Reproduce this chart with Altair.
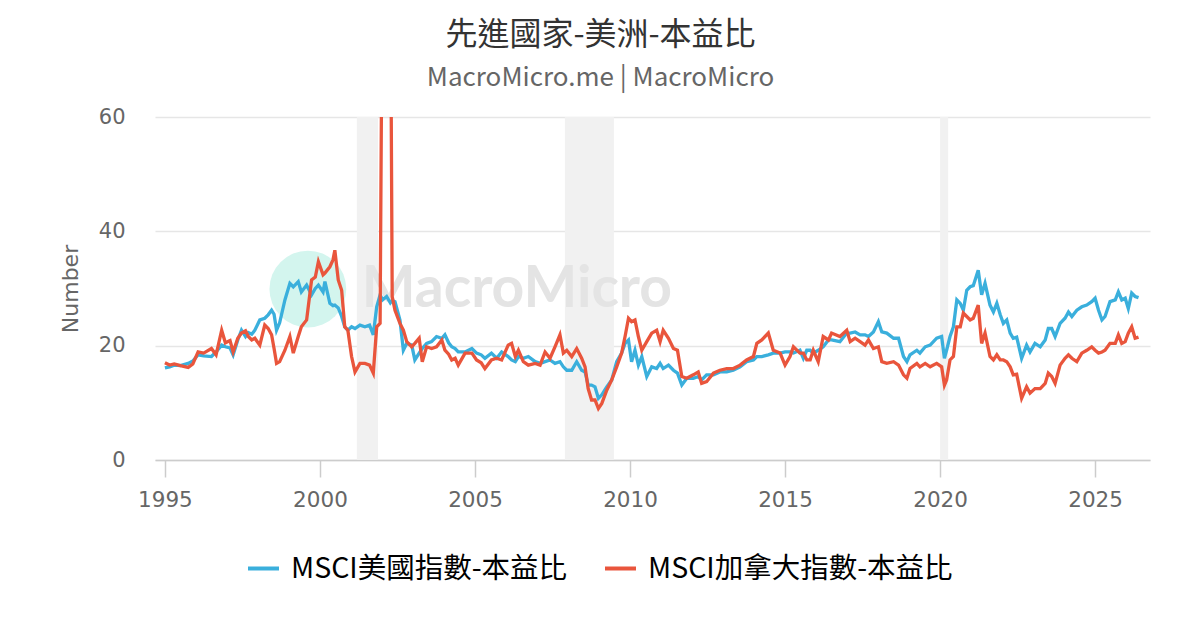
import altair as alt
import pandas as pd

# ---- data ----
t = [1995.00, 1995.15, 1995.30, 1995.50, 1995.75, 1995.90, 1996.07, 1996.25, 1996.50, 1996.65,
     1996.83, 1996.95, 1997.10, 1997.20, 1997.35, 1997.47, 1997.60, 1997.69, 1997.80, 1997.90,
     1998.06, 1998.22, 1998.33, 1998.44, 1998.52, 1998.60, 1998.70, 1998.87, 1999.03, 1999.14,
     1999.30, 1999.40, 1999.57, 1999.73, 1999.85, 1999.95, 2000.10, 2000.16, 2000.32, 2000.42,
     2000.48, 2000.59, 2000.70, 2000.80, 2000.90, 2001.02, 2001.13, 2001.29, 2001.45, 2001.60,
     2001.72, 2001.83, 2001.94, 2002.02, 2002.15, 2002.27, 2002.33, 2002.42, 2002.58, 2002.69,
     2002.80, 2002.96, 2003.06, 2003.20, 2003.30, 2003.44, 2003.60, 2003.76, 2003.93, 2004.03,
     2004.15, 2004.25, 2004.36, 2004.46, 2004.68, 2004.90, 2005.05, 2005.20, 2005.32, 2005.53,
     2005.70, 2005.86, 2006.07, 2006.18, 2006.30, 2006.40, 2006.56, 2006.72, 2006.94, 2007.10,
     2007.26, 2007.42, 2007.58, 2007.74, 2007.85, 2007.96, 2008.12, 2008.28, 2008.44, 2008.55,
     2008.65, 2008.76, 2008.87, 2008.98, 2009.09, 2009.25, 2009.41, 2009.57, 2009.73, 2009.84,
     2009.95, 2010.05, 2010.16, 2010.27, 2010.38, 2010.54, 2010.70, 2010.86, 2010.97, 2011.07,
     2011.24, 2011.40, 2011.53, 2011.67, 2011.83, 2012.04, 2012.20, 2012.31, 2012.47, 2012.69,
     2012.90, 2013.12, 2013.33, 2013.55, 2013.76, 2013.98, 2014.09, 2014.25, 2014.46, 2014.62,
     2014.84, 2015.00, 2015.16, 2015.27, 2015.48, 2015.59, 2015.70, 2015.81, 2015.91, 2016.07,
     2016.23, 2016.40, 2016.50, 2016.77, 2016.99, 2017.10, 2017.26, 2017.42, 2017.58, 2017.69,
     2017.85, 2018.01, 2018.12, 2018.28, 2018.50, 2018.66, 2018.82, 2018.93, 2019.03, 2019.25,
     2019.35, 2019.52, 2019.68, 2019.89, 2020.05, 2020.14, 2020.21, 2020.32, 2020.43, 2020.54,
     2020.65, 2020.75, 2020.86, 2020.97, 2021.07, 2021.23, 2021.34, 2021.45, 2021.61, 2021.72,
     2021.83, 2021.94, 2022.04, 2022.15, 2022.26, 2022.36, 2022.47, 2022.63, 2022.79, 2022.90,
     2023.06, 2023.23, 2023.39, 2023.49, 2023.60, 2023.71, 2023.87, 2024.03, 2024.14, 2024.25,
     2024.41, 2024.57, 2024.73, 2024.89, 2025.00, 2025.11, 2025.22, 2025.32, 2025.48, 2025.65,
     2025.75, 2025.86, 2025.97, 2026.07, 2026.18, 2026.29, 2026.40]

us_pe = [16.1, 16.3, 16.6, 16.5, 16.9, 17.3, 18.4, 18.2, 18.1, 18.9,
         20.1, 19.8, 19.6, 18.4, 21.0, 22.7, 21.6, 22.3, 22.0, 22.7,
         24.5, 24.8, 25.4, 26.2, 25.5, 22.7, 24.0, 28.0, 30.9, 30.3,
         31.2, 29.4, 30.6, 28.9, 30.0, 30.6, 29.4, 31.2, 27.4, 27.0,
         27.1, 26.6, 25.1, 23.3, 22.7, 23.3, 23.0, 23.6, 23.3, 23.6,
         21.9, 26.8, 28.9, 28.0, 28.6, 27.5, 27.9, 27.7, 24.5, 19.2,
         20.4, 20.1, 17.5, 18.7, 19.5, 20.4, 20.7, 21.6, 21.3, 21.9,
         20.5, 19.8, 19.5, 18.9, 18.9, 19.5, 18.7, 18.4, 17.8, 18.7,
         17.8, 18.9, 18.1, 17.5, 17.2, 18.1, 17.8, 18.1, 17.2, 16.9,
         17.2, 17.5, 16.9, 17.2, 16.3, 15.7, 15.7, 17.2, 15.7, 15.4,
         13.1, 13.1, 12.8, 10.8, 11.4, 12.8, 14.0, 17.2, 18.7, 20.4,
         21.0, 17.2, 19.2, 16.6, 18.1, 14.6, 16.3, 16.0, 16.9, 16.0,
         16.6, 15.7, 15.2, 13.1, 14.3, 14.3, 14.6, 14.0, 14.9, 14.9,
         15.4, 15.4, 15.7, 16.3, 17.2, 17.5, 18.1, 18.1, 18.4, 18.7,
         18.7, 18.9, 18.9, 18.7, 19.2, 17.8, 19.2, 19.2, 18.7, 19.2,
         19.8, 21.0, 21.0, 20.7, 22.2, 22.2, 22.4, 21.9, 21.9, 21.6,
         22.4, 24.2, 22.4, 22.2, 21.3, 21.3, 18.1, 17.2, 18.4, 19.2,
         18.7, 19.8, 20.1, 21.3, 21.6, 17.8, 19.2, 21.6, 23.3, 28.0,
         27.4, 26.2, 29.7, 30.3, 30.5, 33.2, 28.9, 30.9, 27.1, 25.9,
         27.4, 25.4, 23.9, 24.5, 22.2, 21.3, 21.5, 17.8, 20.1, 18.9,
         20.4, 19.8, 21.0, 23.0, 23.0, 21.6, 23.9, 24.8, 25.9, 25.1,
         26.2, 26.8, 27.1, 27.7, 28.3, 26.2, 24.5, 25.1, 27.7, 28.0,
         29.4, 28.0, 28.3, 26.5, 29.2, 28.6, 28.4]

ca_pe = [17.0, 16.6, 16.8, 16.5, 16.2, 16.8, 18.9, 18.7, 19.5, 18.4,
         22.7, 20.5, 20.9, 18.9, 21.3, 22.2, 22.6, 21.6, 21.0, 21.3,
         20.1, 23.6, 23.0, 21.9, 19.5, 16.9, 17.2, 19.2, 21.6, 18.7,
         21.6, 23.3, 24.5, 31.5, 32.0, 34.7, 32.4, 32.7, 33.8, 35.0,
         36.7, 31.5, 29.7, 23.3, 22.7, 18.1, 15.4, 16.9, 16.9, 16.6,
         15.2, 23.3, 23.9, 95.0, 130.0, 90.0, 28.6, 26.2, 23.9, 22.7,
         20.7, 19.8, 20.4, 21.3, 17.2, 19.8, 19.5, 19.8, 21.0, 19.2,
         18.5, 17.5, 17.8, 16.6, 18.7, 18.7, 17.5, 17.0, 16.0, 17.5,
         17.8, 17.5, 20.1, 20.4, 18.1, 19.2, 17.2, 16.6, 16.9, 16.6,
         18.9, 17.8, 19.8, 21.9, 18.7, 19.2, 18.1, 19.5, 17.8, 16.3,
         12.5, 10.5, 10.5, 9.0, 9.9, 12.2, 14.0, 16.3, 18.7, 21.6,
         24.8, 24.2, 24.5, 21.6, 19.2, 20.7, 22.2, 22.7, 20.7, 22.7,
         21.3, 19.5, 19.2, 14.6, 14.3, 14.9, 15.4, 13.4, 13.7, 15.2,
         15.7, 16.0, 16.0, 16.6, 17.5, 18.1, 20.4, 21.0, 22.2, 19.2,
         18.7, 16.6, 18.1, 19.8, 18.7, 18.7, 17.5, 17.5, 19.2, 17.2,
         21.6, 21.0, 22.2, 21.6, 22.7, 20.7, 21.3, 20.7, 20.1, 21.0,
         19.5, 19.8, 17.2, 16.9, 17.2, 16.6, 14.9, 14.3, 16.0, 16.9,
         16.3, 16.9, 16.3, 16.9, 16.3, 13.1, 14.0, 17.5, 18.1, 23.3,
         23.3, 25.7, 25.1, 24.5, 24.8, 27.1, 20.4, 22.2, 18.1, 17.5,
         18.4, 17.5, 17.5, 17.2, 16.3, 14.9, 15.0, 10.8, 12.8, 11.7,
         12.5, 12.5, 13.4, 15.2, 14.6, 13.4, 16.6, 17.8, 18.4, 17.8,
         17.2, 18.7, 19.2, 19.8, 19.2, 18.7, 18.9, 19.2, 20.4, 20.4,
         21.9, 20.4, 20.7, 22.2, 23.3, 21.3, 21.5]

series_names = ["MSCI美國指數-本益比", "MSCI加拿大指數-本益比"]
series_colors = ["#3aafdc", "#e9553c"]

rec_start = [2001.19, 2007.90, 2020.00]
rec_end = [2001.87, 2009.48, 2020.26]

year_ticks = [1995, 2000, 2005, 2010, 2015, 2020, 2025]
y_ticks = [0, 20, 40, 60]

wm_x = [2006.35]
wm_y = [29.8]
logo_x = [1999.61]
logo_y = [29.9]

# ---- frames ----
df = pd.concat([
    pd.DataFrame({"t": t, "v": us_pe, "s": series_names[0]}),
    pd.DataFrame({"t": t, "v": ca_pe, "s": series_names[1]}),
], ignore_index=True)
rec = pd.DataFrame({"a": rec_start, "b": rec_end})
wm = pd.DataFrame({"x": wm_x, "y": wm_y, "txt": ["MacroMicro"]})
logo = pd.DataFrame({"x": logo_x, "y": logo_y})

W, H = 995, 343
xscale = alt.Scale(domain=[1994.68, 2026.77], nice=False, zero=False)
yscale = alt.Scale(domain=[0, 60], nice=False)

bands = alt.Chart(rec).mark_rect(color="#f1f1f1").encode(
    x=alt.X("a:Q", scale=xscale),
    x2="b:Q",
)

logo_mark = alt.Chart(logo).mark_point(
    shape="circle", filled=True, size=5900, color="#d3f5ee", opacity=1
).encode(x=alt.X("x:Q", scale=xscale), y=alt.Y("y:Q", scale=yscale))

wm_text = alt.Chart(wm).mark_text(
    font="Lato", fontWeight="bold", fontSize=57, color="#e4e4e4", align="center", baseline="middle"
).encode(x=alt.X("x:Q", scale=xscale), y=alt.Y("y:Q", scale=yscale), text="txt:N")

lines = alt.Chart(df).mark_line(strokeWidth=3.3, clip=True).encode(
    x=alt.X("t:Q", scale=xscale, title=None,
            axis=alt.Axis(values=year_ticks, format="d", grid=False, tickSize=17,
                          tickColor="#cccccc", tickWidth=1.5, domainColor="#cccccc", domainWidth=1.5,
                          labelFontSize=21.5, labelColor="#666666", labelPadding=12,
                          labelFont="DejaVu Sans")),
    y=alt.Y("v:Q", scale=yscale, title="Number",
            axis=alt.Axis(values=y_ticks, grid=True, gridColor="#e6e6e6", gridWidth=1.5,
                          domain=False, ticks=False, labelPadding=30,
                          labelFontSize=21, labelColor="#666666", labelFont="DejaVu Sans",
                          titleFontSize=22, titleColor="#666666", titleFont="DejaVu Sans",
                          titleFontWeight="normal", titlePadding=16)),
    color=alt.Color("s:N", scale=alt.Scale(domain=series_names, range=series_colors),
                    sort=series_names,
                    legend=alt.Legend(title=None, orient="none", legendX=91, legendY=434,
                                      direction="horizontal", symbolType="stroke",
                                      symbolSize=961, symbolStrokeWidth=4,
                                      labelFontSize=28.5, labelColor="#000000",
                                      labelFont="Noto Sans CJK TC", labelOffset=10,
                                      columnPadding=29, labelLimit=400)),
    order="t:Q",
)

chart = alt.layer(bands, logo_mark, wm_text, lines).properties(
    width=W, height=H,
    background="white",
    autosize=alt.AutoSizeParams(type="none"),
    padding={"left": 147, "top": 109, "right": 30, "bottom": 150},
    title=alt.TitleParams(
        text="先進國家-美洲-本益比",
        subtitle="MacroMicro.me | MacroMicro",
        font="Noto Sans CJK TC", fontSize=32, fontWeight="normal", color="#333333",
        subtitleFont="Noto Sans CJK TC", subtitleFontSize=26, subtitleColor="#666666",
        subtitlePadding=13, anchor="middle", dx=-52, offset=14,
    ),
).configure_view(strokeWidth=0, stroke="transparent")

chart.save("out.html", embed_options={"renderer": "svg", "actions": False})
